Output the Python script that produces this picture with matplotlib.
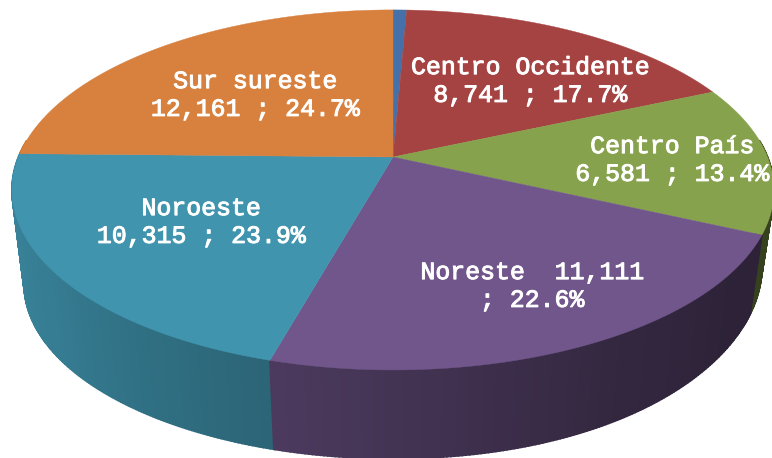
#!/usr/bin/env python
"""Pseudo 3D pie chart of regions, drawn with a small perspective projection."""

import numpy as np
import matplotlib
matplotlib.use('Agg')
import matplotlib.pyplot as plt
import matplotlib.patheffects as pe
from matplotlib.colors import to_rgb

# data, clockwise from the top (first slice has no label in the picture)
regions = ['', 'Centro Occidente', 'Centro País', 'Noreste', 'Noroeste', 'Sur sureste']
values = [340, 8741, 6581, 11111, 10315, 12161]
colors = ['#4571a8', '#a54342', '#87a24c', '#70568b', '#4094ae', '#d8803d']
label_texts = ['', 'Centro Occidente\n8,741 ; 17.7%', 'Centro País\n6,581 ; 13.4%',
               'Noreste  11,111\n; 22.6%', 'Noroeste\n10,315 ; 23.9%',
               'Sur sureste\n12,161 ; 24.7%']

# projection of the disc onto pixel coordinates
CX, CY = 393, 157
AX_R, AY_R = 374.6, 174
PERSP = 0.183
RIM_SCALE = 0.968
RIM_DROP = 95.5
RIM_LIFT = 18  # the lower rim sits a bit higher on the right


def project(theta, scale=1.0, drop=0.0, lift=0.0):
    """theta is clockwise from the top, in degrees."""
    t = np.radians(theta)
    u, v = np.sin(t), np.cos(t)
    w = 1 + PERSP * v
    x = CX + scale * AX_R * u / w
    y = CY + drop - scale * AY_R * v / w - lift * np.clip(u, 0, 1) ** 3
    return x, y


def side_shade(theta):
    # side wall gets darker towards the right
    return np.interp(theta, [100, 125, 150, 196, 235, 275], [0.40, 0.40, 0.46, 0.68, 0.84, 0.92])


fig = plt.figure(figsize=(7.72, 4.58), dpi=100)
ax = fig.add_axes([0, 0, 1, 1])
ax.set_xlim(0, 772)
ax.set_ylim(458, 0)
ax.axis('off')

fractions = np.array(values) / sum(values)
edges = np.concatenate([[0], np.cumsum(fractions)]) * 360

# side wall, back strips first
strips = []
for i, color in enumerate(colors):
    angles = np.arange(edges[i], edges[i + 1], 0.5)
    angles = np.append(angles, edges[i + 1])
    for a0, a1 in zip(angles[:-1], angles[1:]):
        strips.append((a0, a1, color))
strips.sort(key=lambda s: -np.cos(np.radians((s[0] + s[1]) / 2)))

for a0, a1, color in strips:
    if np.cos(np.radians((a0 + a1) / 2)) > 0.1:
        continue
    xt, yt = project(np.array([a0, a1]))
    xb, yb = project(np.array([a1, a0]), RIM_SCALE, RIM_DROP, RIM_LIFT)
    shade = np.array(to_rgb(color)) * side_shade((a0 + a1) / 2)
    ax.fill(np.r_[xt, xb], np.r_[yt, yb], color=tuple(shade), lw=1.2, zorder=1)

# top face
for i, color in enumerate(colors):
    angles = np.linspace(edges[i], edges[i + 1], 200)
    x, y = project(angles)
    ax.fill(np.r_[CX, x], np.r_[CY, y], color=color, lw=0.3, zorder=2)

# labels
label_pos = [None, (530, 81), (672, 160), (532, 286), (201, 222), (255, 95)]
for text, pos in zip(label_texts, label_pos):
    if pos is None:
        continue
    ax.text(pos[0], pos[1], text, color='white', ha='center', va='center',
            family='Liberation Mono', fontsize=17.9, linespacing=1.2, zorder=3,
            path_effects=[pe.withStroke(linewidth=0.7, foreground='white')])

plt.savefig('out.png', dpi=100)
